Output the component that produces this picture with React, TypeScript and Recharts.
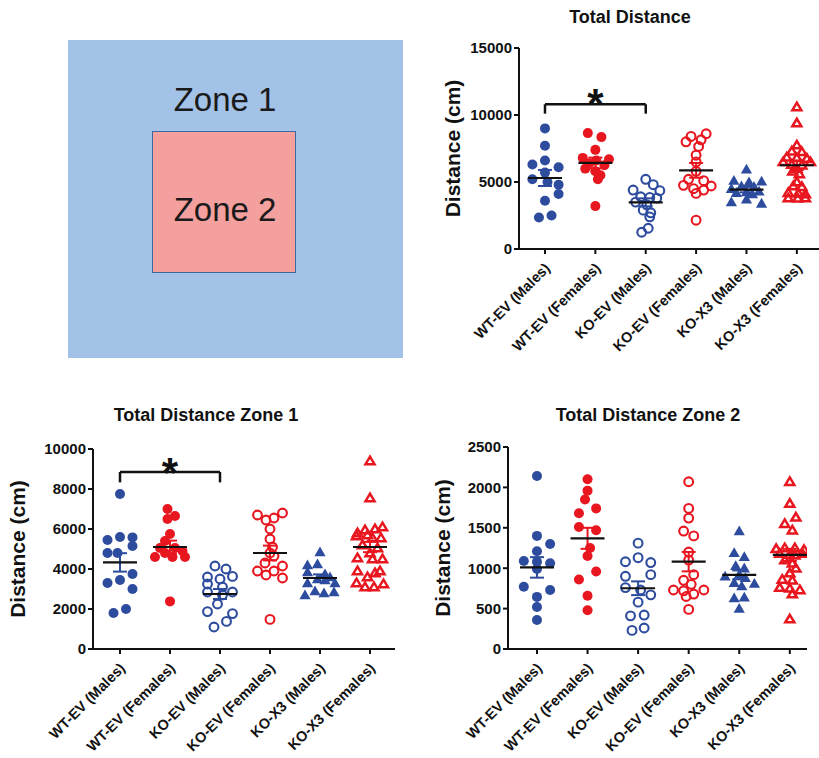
import React from 'react';
import { ScatterChart, Scatter, XAxis, YAxis, ErrorBar, ReferenceLine, ReferenceDot } from 'recharts';

const FONT = '"Liberation Sans", Arial, Helvetica, sans-serif';
const BLUE = '#2d4c9e';
const RED = '#e8161f';
const INK = '#111';

const groups = ['WT-EV (Males)', 'WT-EV (Females)', 'KO-EV (Males)', 'KO-EV (Females)', 'KO-X3 (Males)', 'KO-X3 (Females)'];
const groupTicks = [0, 1, 2, 3, 4, 5];

// Total Distance (cm), one list per group; jitter is the horizontal spread in category units
const totalValues = [
  [9000, 7700, 6600, 6300, 6100, 5700, 5200, 5000, 4800, 4100, 3600, 2500, 2350],
  [8650, 8350, 7400, 6800, 6700, 6600, 6400, 6250, 6000, 5800, 5500, 5200, 3200],
  [5200, 4800, 4400, 4350, 3900, 3850, 3800, 3500, 3300, 2900, 2700, 2400, 1550, 1250],
  [8600, 8400, 8150, 8000, 7650, 7000, 6500, 5800, 5200, 5100, 4750, 4700, 4500, 4400, 4150, 2150],
  [5950, 5100, 5000, 5050, 4700, 4650, 4500, 4300, 4250, 4200, 4100, 3500, 3400, 3700],
  [10600, 9400, 7750, 7300, 7250, 6850, 6800, 6750, 6500, 6500, 6300, 6250, 6000, 5800, 5600, 5000, 4700, 4650, 4200, 4150, 4100, 3800, 3780, 3800],
];
const totalJitter = [
  [0, 0, 0, -0.25, 0.27, 0, -0.25, 0.05, 0.27, 0.27, 0, 0.13, -0.12],
  [-0.15, 0.12, 0, -0.25, 0.27, 0.02, -0.12, 0.18, -0.2, 0, 0.1, 0.05, 0],
  [0, 0.15, -0.25, 0.28, -0.1, 0.08, 0.22, -0.2, 0.02, -0.05, 0.1, 0.08, 0.05, -0.08],
  [0.2, -0.1, 0.1, -0.2, 0.05, 0, 0, 0, -0.15, 0.15, -0.25, 0.3, -0.05, 0.15, 0, 0],
  [0, -0.25, 0.05, 0.3, -0.1, 0.15, -0.3, 0.25, 0, -0.2, 0.12, -0.3, 0.3, 0],
  [0, 0, 0, -0.1, 0.1, -0.2, 0, 0.2, -0.27, 0.27, -0.1, 0.1, 0, -0.08, 0.05, 0, -0.07, 0.1, -0.17, 0.03, 0.17, -0.17, 0.02, 0.17],
];
const totalMeans = [5300, 6420, 3480, 5870, 4430, 6250];
const totalSems = [600, 400, 300, 550, 200, 350];
const totalTicks = [0, 5000, 10000, 15000];

// Total Distance Zone 1
const zone1Values = [
  [7750, 5450, 5600, 5580, 5150, 4800, 4800, 3750, 3300, 3450, 3000, 1800, 2000],
  [7000, 6650, 6500, 5750, 5400, 5050, 5050, 4900, 4800, 4600, 4600, 4600, 2380],
  [4150, 4000, 3600, 3500, 3630, 3250, 3100, 2850, 2850, 2700, 2250, 1870, 1770, 1380, 1100],
  [6700, 6450, 6550, 6800, 6000, 5500, 5100, 4800, 4650, 4300, 4150, 3900, 3700, 3900, 3550, 1480],
  [4850, 4200, 4250, 3850, 3750, 3600, 3500, 3450, 3300, 3300, 2700, 2900, 2800, 2850],
  [9400, 7550, 6100, 5950, 6000, 5800, 5650, 5550, 5550, 5700, 5200, 5050, 4800, 4550, 4500, 4500, 3900, 3800, 3600, 3300, 3100, 3100, 3250, 3900],
];
const zone1Jitter = [
  [0, -0.25, 0, 0.25, 0.25, -0.25, -0.05, 0.25, -0.25, 0, 0.25, -0.13, 0.12],
  [-0.05, 0.1, -0.05, 0, -0.1, -0.2, 0.1, 0.25, -0.1, -0.3, 0.05, 0.3, 0],
  [-0.1, 0.12, -0.25, 0, 0.25, -0.25, 0.05, 0.25, -0.25, 0.05, -0.05, -0.25, 0.25, 0.13, -0.12],
  [-0.25, -0.08, 0.08, 0.25, 0, 0, 0.05, 0, 0.08, -0.1, 0.25, -0.25, -0.08, 0.08, 0.25, 0],
  [0, -0.25, -0.05, -0.25, 0.1, 0.2, -0.05, 0.1, 0.3, -0.25, -0.3, -0.1, 0.08, 0.28],
  [0, 0, 0.25, -0.1, 0.1, -0.25, -0.27, 0.05, 0.22, -0.05, -0.15, 0.15, 0, -0.25, 0.05, 0.25, -0.25, 0.1, -0.05, -0.27, -0.1, 0.08, 0.27, 0.2],
];
const zone1Means = [4330, 5100, 2750, 4800, 3550, 5100];
const zone1Sems = [460, 320, 250, 370, 180, 260];
const zone1Ticks = [0, 2000, 4000, 6000, 8000, 10000];

// Total Distance Zone 2
const zone2Values = [
  [2140, 1400, 1300, 1210, 1090, 1080, 1060, 990, 770, 730, 645, 520, 360],
  [2100, 1960, 1850, 1680, 1740, 1510, 1470, 1250, 1150, 960, 860, 660, 480],
  [1310, 1080, 1130, 1070, 900, 920, 760, 730, 670, 580, 410, 420, 230, 260],
  [2070, 1740, 1620, 1460, 1400, 1200, 1100, 920, 850, 800, 730, 720, 680, 730, 650, 490],
  [1460, 1190, 1140, 1030, 1000, 900, 920, 880, 810, 820, 780, 630, 640, 500],
  [2070, 1800, 1630, 1550, 1470, 1240, 1250, 1250, 1230, 1180, 1170, 1160, 1180, 1060, 1000, 940, 860, 850, 760, 750, 730, 680, 370, 1100],
];
const zone2Jitter = [
  [0, 0, 0.26, 0, -0.26, 0, 0.26, 0, -0.26, 0.26, 0, 0, 0],
  [0, 0, -0.05, -0.17, 0.17, -0.17, 0.17, 0.05, 0, 0.17, -0.17, 0, 0],
  [0, -0.25, 0, 0.25, -0.25, 0.25, -0.25, 0.05, 0.25, 0, -0.15, 0.12, -0.12, 0.12],
  [0, 0, 0, -0.1, 0.1, 0, 0, 0.1, -0.1, 0.05, -0.3, -0.1, 0.1, 0.3, -0.05, 0],
  [0, -0.1, 0.1, -0.07, 0.1, -0.28, 0, 0.12, 0.3, -0.1, 0.05, -0.1, 0.1, 0],
  [0, 0, 0.12, -0.1, 0.05, -0.27, -0.1, 0.1, 0.28, -0.2, 0, 0.1, 0.25, 0.05, 0.12, 0, -0.15, 0.05, -0.2, 0, 0.2, 0.05, 0, -0.1],
];
const zone2Means = [1010, 1370, 752, 1081, 917, 1164];
const zone2Sems = [127, 130, 85, 120, 55, 75];
const zone2Ticks = [0, 500, 1000, 1500, 2000, 2500];

// significance brackets: from group, to group, bar height, foot height, star height
const totalSig = { from: 0, to: 2, bar: 10800, foot: 10100, star: 10900 };
const zone1Sig = { from: 0, to: 2, bar: 8850, foot: 8330, star: 8850 };

const groupMarks = ['fill', 'fill', 'open', 'open', 'tri', 'triOpen'];
const groupColors = [BLUE, RED, BLUE, RED, BLUE, RED];

const makeShape = (kind: string, color: string) => (props: any) => {
  const { cx, cy } = props;
  if (cx == null || cy == null) return <g />;
  if (kind === 'fill') return <circle cx={cx} cy={cy} r={5} fill={color} />;
  if (kind === 'open') return <circle cx={cx} cy={cy} r={4.4} fill="none" stroke={color} strokeWidth={2.1} />;
  const pts = `${cx},${cy - 5.6} ${cx + 5.6},${cy + 4.2} ${cx - 5.6},${cy + 4.2}`;
  if (kind === 'tri') return <polygon points={pts} fill={color} />;
  return <polygon points={`${cx},${cy - 4.3} ${cx + 4.5},${cy + 3.2} ${cx - 4.5},${cy + 3.2}`} fill="none" stroke={color} strokeWidth={2.5} strokeLinejoin="miter" />;
};

const MeanLine = (props: any) => {
  const { cx, cy } = props;
  if (cx == null || cy == null) return <g />;
  return <line x1={cx - 17} x2={cx + 17} y1={cy} y2={cy} stroke={INK} strokeWidth={2.2} />;
};

const GroupTick = (props: any) => {
  const { x, y, payload } = props;
  const ax = x + 6;
  const ay = y + 13;
  return (
    <text x={ax} y={ay} transform={`rotate(-45, ${ax}, ${ay})`} textAnchor="end" fontSize={14.5} fontWeight={700} fill={INK}>
      {groups[payload.value]}
    </text>
  );
};

type Sig = { from: number; to: number; bar: number; foot: number; star: number };

type PlotProps = {
  left: number; top: number; width: number; height: number;
  margin: { top: number; right: number; bottom: number; left: number };
  yWidth: number; labelOffset: number;
  xDomain: [number, number];
  yTicks: number[];
  values: number[][]; jitter: number[][]; means: number[]; sems: number[];
  sig?: Sig;
};

const DotPlot = ({ left, top, width, height, margin, yWidth, labelOffset, xDomain, yTicks, values, jitter, means, sems, sig }: PlotProps) => {
  const pointSets = values.map((vals, g) => vals.map((v, k) => ({ x: g + jitter[g][k], y: v })));
  const meanSet = (idx: number[]) => idx.map((g) => ({ x: g, y: means[g], sem: sems[g] }));
  return (
    <div style={{ position: 'absolute', left, top }}>
      <ScatterChart width={width} height={height} margin={margin}>
        <XAxis
          type="number"
          dataKey="x"
          domain={xDomain}
          ticks={groupTicks}
          interval={0}
          allowDataOverflow
          height={100}
          tickSize={5}
          tick={<GroupTick />}
          axisLine={{ stroke: INK, strokeWidth: 2 }}
          tickLine={{ stroke: INK, strokeWidth: 2 }}
        />
        <YAxis
          type="number"
          dataKey="y"
          domain={[yTicks[0], yTicks[yTicks.length - 1]]}
          ticks={yTicks}
          interval={0}
          width={yWidth}
          tickSize={5}
          tick={{ fontSize: 15, fontWeight: 700, fill: INK }}
          axisLine={{ stroke: INK, strokeWidth: 2 }}
          tickLine={{ stroke: INK, strokeWidth: 2 }}
          label={{
            value: 'Distance (cm)',
            angle: -90,
            position: 'insideLeft',
            offset: labelOffset,
            style: { textAnchor: 'middle', fontSize: 21, fontWeight: 700, fill: INK },
          }}
        />
        {pointSets.map((pts, g) => (
          <Scatter
            key={groups[g]}
            name={groups[g]}
            data={pts}
            shape={makeShape(groupMarks[g], groupColors[g])}
            isAnimationActive={false}
          />
        ))}
        <Scatter data={meanSet([0, 2, 4])} shape={MeanLine} isAnimationActive={false}>
          <ErrorBar dataKey="sem" direction="y" width={7} stroke={BLUE} strokeWidth={2} />
        </Scatter>
        <Scatter data={meanSet([1, 3, 5])} shape={MeanLine} isAnimationActive={false}>
          <ErrorBar dataKey="sem" direction="y" width={7} stroke={RED} strokeWidth={2} />
        </Scatter>
        {sig && (
          <ReferenceLine segment={[{ x: sig.from, y: sig.bar }, { x: sig.to, y: sig.bar }]} stroke={INK} strokeWidth={2.5} />
        )}
        {sig && (
          <ReferenceLine segment={[{ x: sig.from, y: sig.foot }, { x: sig.from, y: sig.bar }]} stroke={INK} strokeWidth={2.5} />
        )}
        {sig && (
          <ReferenceLine segment={[{ x: sig.to, y: sig.foot }, { x: sig.to, y: sig.bar }]} stroke={INK} strokeWidth={2.5} />
        )}
        {sig && (
          <ReferenceDot
            x={(sig.from + sig.to) / 2}
            y={sig.star}
            r={0}
            fill="none"
            stroke="none"
            label={{ value: '*', position: 'center', fontSize: 42, fontWeight: 700, fill: INK }}
          />
        )}
      </ScatterChart>
    </div>
  );
};

const Title = ({ cx, cy, text }: { cx: number; cy: number; text: string }) => (
  <div
    style={{
      position: 'absolute',
      left: cx - 160,
      top: cy - 11,
      width: 320,
      lineHeight: '22px',
      textAlign: 'center',
      fontSize: 18,
      fontWeight: 700,
      color: INK,
    }}
  >
    {text}
  </div>
);

const ZoneMap = () => (
  <>
    <div style={{ position: 'absolute', left: 68, top: 40, width: 335, height: 318, background: '#a3c2e7' }} />
    <div
      style={{
        position: 'absolute',
        left: 152,
        top: 131,
        width: 142,
        height: 140,
        background: '#f3a09e',
        border: '1px solid #3d689c',
      }}
    />
    <div style={{ position: 'absolute', left: 125, top: 82, width: 200, lineHeight: '36px', textAlign: 'center', fontSize: 33, color: '#1a1a1a' }}>
      Zone 1
    </div>
    <div style={{ position: 'absolute', left: 125, top: 192, width: 200, lineHeight: '36px', textAlign: 'center', fontSize: 33, color: '#1a1a1a' }}>
      Zone 2
    </div>
  </>
);

export default function App() {
  return (
    <div style={{ position: 'relative', width: 819, height: 758, overflow: 'hidden', background: '#fff', fontFamily: FONT }}>
      <style>{'body { margin: 0; }'}</style>
      <ZoneMap />

      <Title cx={630} cy={17} text="Total Distance" />
      <DotPlot
        left={430}
        top={0}
        width={389}
        height={380}
        margin={{ top: 48, right: 0, bottom: 31, left: 0 }}
        yWidth={89}
        labelOffset={23}
        xDomain={[-0.516, 5.44]}
        yTicks={totalTicks}
        values={totalValues}
        jitter={totalJitter}
        means={totalMeans}
        sems={totalSems}
        sig={totalSig}
      />

      <Title cx={206} cy={415} text="Total Distance Zone 1" />
      <DotPlot
        left={0}
        top={400}
        width={400}
        height={358}
        margin={{ top: 49, right: 5, bottom: 9, left: 0 }}
        yWidth={93}
        labelOffset={18}
        xDomain={[-0.54, 5.5]}
        yTicks={zone1Ticks}
        values={zone1Values}
        jitter={zone1Jitter}
        means={zone1Means}
        sems={zone1Sems}
        sig={zone1Sig}
      />

      <Title cx={648} cy={415} text="Total Distance Zone 2" />
      <DotPlot
        left={410}
        top={400}
        width={409}
        height={358}
        margin={{ top: 47, right: 12, bottom: 9, left: 0 }}
        yWidth={98}
        labelOffset={33}
        xDomain={[-0.573, 5.34]}
        yTicks={zone2Ticks}
        values={zone2Values}
        jitter={zone2Jitter}
        means={zone2Means}
        sems={zone2Sems}
      />
    </div>
  );
}
